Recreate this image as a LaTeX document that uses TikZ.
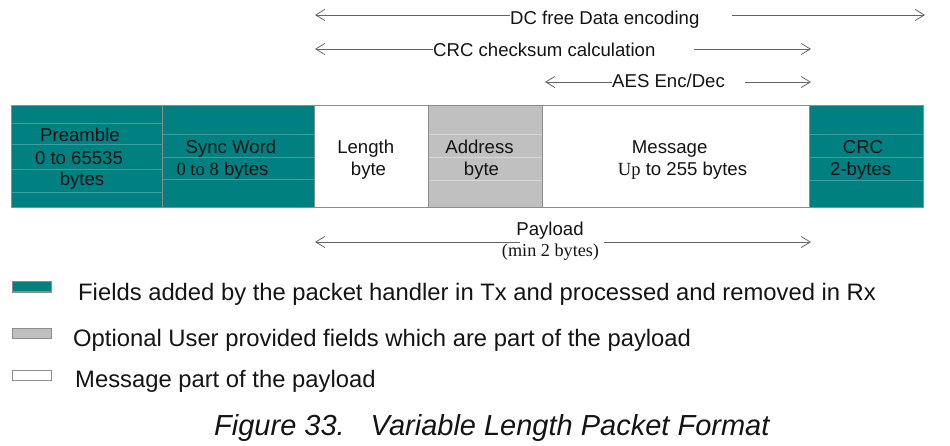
\documentclass[tikz,border=0pt]{standalone}
\usepackage{fontspec}
\setmainfont{Liberation Sans}
\newfontfamily\serifpart{Liberation Serif}
\usetikzlibrary{arrows.meta}
\definecolor{tealc}{RGB}{0,128,128}
\definecolor{tealline}{RGB}{60,160,160}
\definecolor{grayfill}{RGB}{192,192,192}
\definecolor{grayline}{RGB}{215,215,215}
\definecolor{bordc}{RGB}{140,140,140}
\definecolor{dimc}{RGB}{100,100,100}
\definecolor{txtc}{RGB}{20,20,20}
\tikzset{
  fieldbox/.style={draw=bordc, line width=1pt, inner sep=0pt, outer sep=0pt, anchor=north west, minimum height=102pt},
  tline/.style={draw=tealline, line width=0.8pt},
  gline/.style={draw=grayline, line width=0.8pt},
  btxt/.style={font=\fontsize{18.6}{22}\selectfont, text=txtc, inner sep=0pt, anchor=base},
  atxt/.style={font=\fontsize{18.6}{22}\selectfont, text=txtc, inner sep=0pt, anchor=base west},
  ltxt/.style={font=\fontsize{23.8}{28}\selectfont, text=txtc, inner sep=0pt, anchor=base west},
  dim/.style={draw=dimc, line width=0.8pt},
  swatch/.style={draw=bordc, line width=1pt, inner sep=0pt, outer sep=0pt, anchor=north west, minimum width=39pt, minimum height=10pt},
}
\begin{document}
\begin{tikzpicture}[x=1pt,y=-1pt]
\useasboundingbox (0,0) rectangle (950,446);
% ---- fields
\node[fieldbox, fill=tealc, minimum width=151pt] (pre) at (11,106) {};
\node[fieldbox, fill=tealc, minimum width=152pt] (sync) at (162,106) {};
\node[fieldbox, fill=white, minimum width=114pt] (len) at (314,106) {};
\node[fieldbox, fill=grayfill, minimum width=114pt] (addr) at (428,106) {};
\node[fieldbox, fill=white, minimum width=267pt] (msg) at (542,106) {};
\node[fieldbox, fill=tealc, minimum width=114pt] (crc) at (809,106) {};
% faint cell lines
\foreach \yy in {123,144,169,192} \draw[tline] (11.5,\yy) -- (161.5,\yy);
\foreach \yy in {134,157,179} \draw[tline] (162.5,\yy) -- (313.5,\yy);
\foreach \yy in {134,157,180} \draw[gline] (428.5,\yy) -- (541.5,\yy);
\foreach \yy in {134,157,180} \draw[tline] (809.5,\yy) -- (922.5,\yy);
% redraw borders on top
\foreach \n in {pre,sync,len,addr,msg,crc} \draw[draw=bordc, line width=1pt] (\n.north west) rectangle (\n.south east);
% field texts
\node[btxt] (pre1) at (80,142) {Preamble};
\node[btxt] (pre2) at (79,165) {0 to 65535};
\node[btxt] (pre3) at (82,186) {bytes};
\node[btxt] (sync1) at (231,154) {Sync Word};
\node[btxt] (sync2) at (222.5,176) {{\serifpart 0 to 8} bytes};
\node[btxt] (len1) at (365.7,154) {Length};
\node[btxt] (len2) at (368.5,176) {byte};
\node[btxt] (addr1) at (479.5,154) {Address};
\node[btxt] (addr2) at (481.5,176) {byte};
\node[btxt] (msg1) at (669.7,154) {Message};
\node[btxt] (msg2) at (682.5,176) {{\serifpart Up} to 255 bytes};
\node[btxt] (crc1) at (863,154) {CRC};
\node[btxt] (crc2) at (860.7,176) {2-bytes};
% ---- dimension arrows
\node[atxt] (dct) at (510,25) {DC free Data encoding};
\coordinate (dcL) at (315,15);
\coordinate (dcA) at (732,15);
\coordinate (dcR) at (925,15);
\draw[dim, {Straight Barb[length=9pt,width=11pt]}-] (dcL) -- (dcL -| dct.west);
\draw[dim, -{Straight Barb[length=9pt,width=11pt]}] (dcA) -- (dcR);
\node[atxt] (crct) at (433,57) {CRC checksum calculation};
\coordinate (crcL) at (315,49);
\coordinate (crcA) at (694,49);
\coordinate (crcR) at (811,49);
\draw[dim, {Straight Barb[length=9pt,width=11pt]}-] (crcL) -- (crcL -| crct.west);
\draw[dim, -{Straight Barb[length=9pt,width=11pt]}] (crcA) -- (crcR);
\node[atxt] (aest) at (612,88) {AES Enc/Dec};
\coordinate (aesL) at (545,82);
\coordinate (aesA) at (745,82);
\coordinate (aesR) at (811,82);
\draw[dim, {Straight Barb[length=9pt,width=11pt]}-] (aesL) -- (aesL -| aest.west);
\draw[dim, -{Straight Barb[length=9pt,width=11pt]}] (aesA) -- (aesR);
% payload
\node[btxt] (pay1) at (550,236) {Payload};
\node[btxt, font=\serifpart\fontsize{18.2}{22}\selectfont] (pay2) at (550.5,257) {(min 2 bytes)};
\coordinate (payL) at (315,242);
\coordinate (payA) at (520,242);
\coordinate (payB) at (604,242);
\coordinate (payR) at (811,242);
\draw[dim, {Straight Barb[length=9pt,width=11pt]}-] (payL) -- (payA);
\draw[dim, -{Straight Barb[length=9pt,width=11pt]}] (payB) -- (payR);
% ---- legend
\node[swatch, fill=tealc] (sw1) at (12,282) {};
\node[swatch, fill=grayfill] (sw2) at (12,328) {};
\node[swatch, fill=white] (sw3) at (12,370) {};
\node[ltxt] (lg1) at (78,301) {Fields added by the packet handler in Tx and processed and removed in Rx};
\node[ltxt] (lg2) at (73,346) {Optional User provided fields which are part of the payload};
\node[ltxt] (lg3) at (75,387) {Message part of the payload};
% ---- caption
\node[ltxt, font=\itshape\fontsize{29}{32}\selectfont] (cap) at (214,435) {Figure 33.\hspace{26pt}Variable Length Packet Format};
\end{tikzpicture}
\end{document}
